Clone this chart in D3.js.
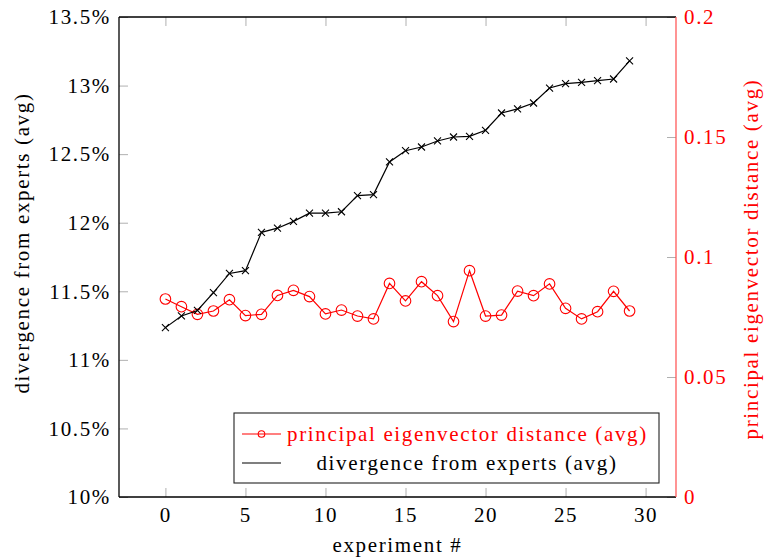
<!DOCTYPE html>
<html>
<head>
<meta charset="utf-8">
<script src="https://cdn.jsdelivr.net/npm/d3@7"></script>
<style>
  body { margin: 0; background: #fff; }
</style>
</head>
<body>
<script>
// experiment index
var experiments = d3.range(0, 30);

// divergence from experts (avg), in percent
var divergence = [11.235, 11.32, 11.36, 11.49, 11.63, 11.65, 11.93, 11.96, 12.01, 12.07,
                  12.07, 12.08, 12.197, 12.205, 12.443, 12.525, 12.552, 12.596, 12.625, 12.63,
                  12.674, 12.80, 12.83, 12.873, 12.982, 13.014, 13.024, 13.036, 13.048, 13.18];

// principal eigenvector distance (avg)
var eigenDist = [0.0825, 0.0793, 0.0761, 0.0775, 0.0822, 0.0756, 0.0761, 0.0840, 0.0861, 0.0835,
                 0.0763, 0.0779, 0.0754, 0.0742, 0.0890, 0.0817, 0.0897, 0.0839, 0.0731, 0.0943,
                 0.0754, 0.0758, 0.0858, 0.0839, 0.0888, 0.0786, 0.0742, 0.0772, 0.0857, 0.0775];

var xTicks = [0, 5, 10, 15, 20, 25, 30];
var leftTicks = [10, 10.5, 11, 11.5, 12, 12.5, 13, 13.5];
var rightTicks = [0, 0.05, 0.1, 0.15, 0.2];

var margin = {top: 17, right: 88, bottom: 61, left: 119},
    width = 764 - margin.left - margin.right,
    height = 558 - margin.top - margin.bottom,
    tickLen = 9,
    fontSize = 21,
    fontFam = "'Liberation Serif', 'Times New Roman', serif";

var x = d3.scaleLinear().domain([-2.9, 31.9]).range([0, width]);
var yL = d3.scaleLinear().domain([10, 13.5]).range([height, 0]);
var yR = d3.scaleLinear().domain([0, 0.2]).range([height, 0]);

var svg = d3.select("body").append("svg")
    .attr("width", 764)
    .attr("height", 558)
  .append("g")
    .attr("transform", "translate(" + margin.left + "," + margin.top + ")");

// bottom axis
var xAxis = svg.append("g")
    .attr("transform", "translate(0," + height + ")")
    .call(d3.axisBottom(x).tickValues(xTicks).tickSize(-tickLen).tickPadding(10).tickSizeOuter(0));

// top ticks (no labels)
var xTop = svg.append("g")
    .call(d3.axisTop(x).tickValues(xTicks).tickSize(-tickLen).tickFormat("").tickSizeOuter(0));

// left axis
var yAxisL = svg.append("g")
    .call(d3.axisLeft(yL).tickValues(leftTicks).tickSize(-tickLen).tickPadding(8).tickSizeOuter(0)
      .tickFormat(function(d) { return d3.format("~g")(d) + "%"; }));

// right axis
var yAxisR = svg.append("g")
    .attr("transform", "translate(" + width + ",0)")
    .call(d3.axisRight(yR).tickValues(rightTicks).tickSize(-tickLen).tickPadding(8).tickSizeOuter(0)
      .tickFormat(d3.format("~g")));

svg.selectAll(".tick line").attr("stroke", "#b0b0b0").attr("stroke-width", 1);
svg.selectAll(".domain").remove();
svg.selectAll(".tick text").attr("font-size", fontSize).attr("fill", "#000");
yAxisR.selectAll(".tick text").attr("fill", "#ff0000");

// frame
svg.append("line").attr("x1", 0).attr("x2", width).attr("y1", 0).attr("y2", 0)
    .attr("stroke", "#000").attr("stroke-width", 1.3);
svg.append("line").attr("x1", 0).attr("x2", width).attr("y1", height).attr("y2", height)
    .attr("stroke", "#000").attr("stroke-width", 1.3);
svg.append("line").attr("x1", 0).attr("x2", 0).attr("y1", 0).attr("y2", height)
    .attr("stroke", "#000").attr("stroke-width", 1.3);
svg.append("line").attr("x1", width).attr("x2", width).attr("y1", 0).attr("y2", height)
    .attr("stroke", "#ff5a5a").attr("stroke-width", 1.3);

// red series
var redLine = d3.line()
    .x(function(d, i) { return x(experiments[i]); })
    .y(function(d) { return yR(d); });

svg.append("path")
    .datum(eigenDist)
    .attr("d", redLine)
    .attr("fill", "none")
    .attr("stroke", "#ff0000")
    .attr("stroke-width", 1.2);

svg.selectAll(".redDot")
    .data(eigenDist)
    .enter()
    .append("circle")
    .attr("class", "redDot")
    .attr("cx", function(d, i) { return x(experiments[i]); })
    .attr("cy", function(d) { return yR(d); })
    .attr("r", 5.3)
    .attr("fill", "none")
    .attr("stroke", "#ff0000")
    .attr("stroke-width", 1.1);

// black series
var blackLine = d3.line()
    .x(function(d, i) { return x(experiments[i]); })
    .y(function(d) { return yL(d); });

svg.append("path")
    .datum(divergence)
    .attr("d", blackLine)
    .attr("fill", "none")
    .attr("stroke", "#000")
    .attr("stroke-width", 1.2);

var cross = "M-3.5,-3.5L3.5,3.5M-3.5,3.5L3.5,-3.5";
svg.selectAll(".blackMark")
    .data(divergence)
    .enter()
    .append("path")
    .attr("class", "blackMark")
    .attr("transform", function(d, i) { return "translate(" + x(experiments[i]) + "," + yL(d) + ")"; })
    .attr("d", cross)
    .attr("stroke", "#000")
    .attr("stroke-width", 1.1);

// legend
var lg = svg.append("g").attr("transform", "translate(" + (234 - margin.left) + "," + (413 - margin.top) + ")");
lg.append("rect")
    .attr("width", 425).attr("height", 70)
    .attr("fill", "#fff").attr("stroke", "#222").attr("stroke-width", 1.1);
lg.append("line").attr("x1", 8).attr("x2", 47).attr("y1", 21).attr("y2", 21)
    .attr("stroke", "#ff0000").attr("stroke-width", 1.2);
lg.append("circle").attr("cx", 27.5).attr("cy", 21).attr("r", 3.3)
    .attr("fill", "none").attr("stroke", "#ff0000").attr("stroke-width", 1.1);
lg.append("text").attr("x", 53).attr("y", 28)
    .attr("font-size", fontSize).attr("fill", "#ff0000")
    .text("principal eigenvector distance (avg)");
lg.append("line").attr("x1", 8).attr("x2", 47).attr("y1", 50).attr("y2", 50)
    .attr("stroke", "#000").attr("stroke-width", 1.2);
lg.append("text").attr("x", 233).attr("y", 57)
    .attr("font-size", fontSize).attr("fill", "#000")
    .attr("text-anchor", "middle")
    .text("divergence from experts (avg)");

// axis labels
svg.append("text")
    .attr("x", width / 2).attr("y", height + 55)
    .attr("text-anchor", "middle")
    .attr("font-size", fontSize)
    .text("experiment #");

svg.append("text")
    .attr("transform", "translate(" + (29 - margin.left) + "," + (243 - margin.top) + ") rotate(-90)")
    .attr("text-anchor", "middle")
    .attr("font-size", fontSize)
    .text("divergence from experts (avg)");

svg.append("text")
    .attr("transform", "translate(" + (758 - margin.left) + "," + (259 - margin.top) + ") rotate(-90)")
    .attr("text-anchor", "middle")
    .attr("font-size", fontSize)
    .attr("fill", "#ff0000")
    .text("principal eigenvector distance (avg)");

// computer-modern-like: serif face, slightly spaced
d3.selectAll("text")
    .style("font-family", fontFam)
    .style("letter-spacing", "1.65px");
</script>
</body>
</html>
